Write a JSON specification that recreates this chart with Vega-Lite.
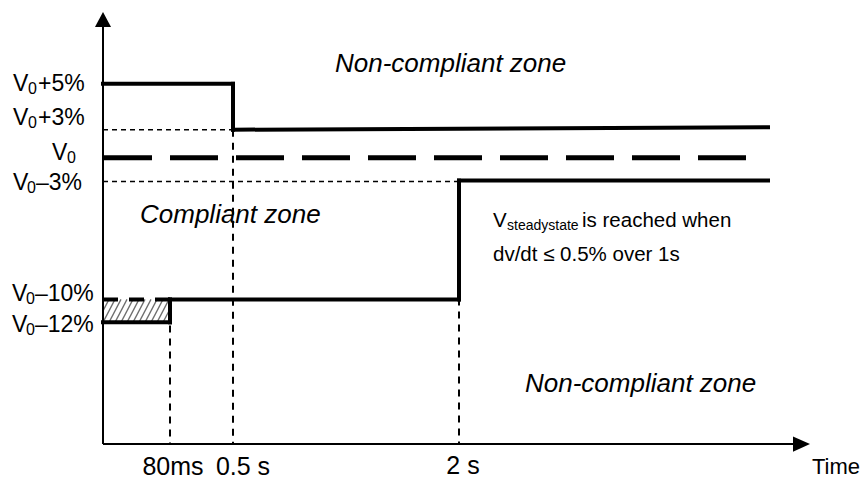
{
  "$schema": "https://vega.github.io/schema/vega-lite/v6.json",
  "width": 864,
  "height": 480,
  "padding": 0,
  "autosize": {"type": "fit", "contains": "padding"},
  "background": "white",
  "config": {"view": {"stroke": null}, "text": {"font": "Liberation Sans", "color": "black"}},
  "datasets": {
    "thick": [
      {"x": 103, "y": 84, "x2": 233, "y2": 84},
      {"x": 233, "y": 84, "x2": 233, "y2": 130},
      {"x": 233, "y": 130, "x2": 768, "y2": 127.5},
      {"x": 459, "y": 181, "x2": 768, "y2": 181},
      {"x": 459, "y": 181, "x2": 459, "y2": 300},
      {"x": 170, "y": 300, "x2": 459, "y2": 300},
      {"x": 103, "y": 323, "x2": 170, "y2": 323},
      {"x": 170, "y": 300, "x2": 170, "y2": 323}
    ],
    "nominal": [{"x": 104, "y": 158, "x2": 746, "y2": 158}],
    "lower": [{"x": 103, "y": 300, "x2": 170, "y2": 300}],
    "thinH": [
      {"x": 103, "y": 130, "x2": 233, "y2": 130},
      {"x": 103, "y": 182, "x2": 459, "y2": 182}
    ],
    "thinV": [
      {"x": 170, "y": 300, "x2": 170, "y2": 445},
      {"x": 233, "y": 130, "x2": 233, "y2": 445},
      {"x": 459, "y": 182, "x2": 459, "y2": 445}
    ],
    "axes": [
      {"x": 103, "y": 445, "x2": 103, "y2": 24},
      {"x": 103, "y": 445, "x2": 796, "y2": 445}
    ],
    "hatch": [
      {"x": 103, "y": 311.5, "x2": 109, "y2": 300},
      {"x": 103, "y": 323, "x2": 115, "y2": 300},
      {"x": 109, "y": 323, "x2": 121, "y2": 300},
      {"x": 115, "y": 323, "x2": 127, "y2": 300},
      {"x": 121, "y": 323, "x2": 133, "y2": 300},
      {"x": 127, "y": 323, "x2": 139, "y2": 300},
      {"x": 133, "y": 323, "x2": 145, "y2": 300},
      {"x": 139, "y": 323, "x2": 151, "y2": 300},
      {"x": 145, "y": 323, "x2": 157, "y2": 300},
      {"x": 151, "y": 323, "x2": 163, "y2": 300},
      {"x": 157, "y": 323, "x2": 169, "y2": 300},
      {"x": 163, "y": 323, "x2": 170, "y2": 309.6}
    ],
    "labelMain": [
      {"t": "V", "x": 13, "y": 91}, {"t": "+5%", "x": 38, "y": 91},
      {"t": "V", "x": 13, "y": 125}, {"t": "+3%", "x": 38, "y": 125},
      {"t": "V", "x": 52, "y": 160},
      {"t": "V", "x": 13, "y": 190}, {"t": "–3%", "x": 36, "y": 190},
      {"t": "V", "x": 12, "y": 302}, {"t": "–10%", "x": 35, "y": 302},
      {"t": "V", "x": 12, "y": 333}, {"t": "–12%", "x": 35, "y": 333}
    ],
    "labelSub": [
      {"t": "0", "x": 28, "y": 94},
      {"t": "0", "x": 28, "y": 128},
      {"t": "0", "x": 67, "y": 163},
      {"t": "0", "x": 27, "y": 193},
      {"t": "0", "x": 26, "y": 305},
      {"t": "0", "x": 26, "y": 336}
    ],
    "zones": [
      {"t": "Non-compliant zone", "x": 335, "y": 72},
      {"t": "Compliant zone", "x": 140, "y": 223},
      {"t": "Non-compliant zone", "x": 525, "y": 393}
    ],
    "ticks": [
      {"t": "80ms", "x": 173, "y": 476},
      {"t": "0.5 s", "x": 243, "y": 476},
      {"t": "2 s", "x": 463, "y": 475}
    ],
    "timeLabel": [{"t": "Time", "x": 812, "y": 475}],
    "note": [
      {"t": "V", "x": 493, "y": 227},
      {"t": "is reached when", "x": 582, "y": 227},
      {"t": "dv/dt ≤ 0.5% over 1s", "x": 493, "y": 262}
    ],
    "noteSub": [{"t": "steadystate", "x": 507, "y": 230}],
    "arrowUp": [{"x": 103, "y": 19.5}],
    "arrowRight": [{"x": 801.5, "y": 445}]
  },
  "layer": [
    {
      "data": {"name": "hatch"},
      "mark": {"type": "rule", "color": "#6e6e6e", "strokeWidth": 1.3},
      "encoding": {
        "x": {"field": "x", "type": "quantitative", "scale": {"domain": [0, 864], "nice": false, "zero": false}, "axis": null},
        "y": {"field": "y", "type": "quantitative", "scale": {"domain": [0, 480], "reverse": true, "nice": false, "zero": false}, "axis": null},
        "x2": {"field": "x2"},
        "y2": {"field": "y2"}
      }
    },
    {
      "data": {"name": "thinH"},
      "mark": {"type": "rule", "color": "black", "strokeWidth": 1.5, "strokeDash": [5, 4]},
      "encoding": {
        "x": {"field": "x", "type": "quantitative", "scale": {"domain": [0, 864], "nice": false, "zero": false}, "axis": null},
        "y": {"field": "y", "type": "quantitative", "scale": {"domain": [0, 480], "reverse": true, "nice": false, "zero": false}, "axis": null},
        "x2": {"field": "x2"},
        "y2": {"field": "y2"}
      }
    },
    {
      "data": {"name": "thinV"},
      "mark": {"type": "rule", "color": "black", "strokeWidth": 2, "strokeDash": [7, 6]},
      "encoding": {
        "x": {"field": "x", "type": "quantitative", "scale": {"domain": [0, 864], "nice": false, "zero": false}, "axis": null},
        "y": {"field": "y", "type": "quantitative", "scale": {"domain": [0, 480], "reverse": true, "nice": false, "zero": false}, "axis": null},
        "x2": {"field": "x2"},
        "y2": {"field": "y2"}
      }
    },
    {
      "data": {"name": "axes"},
      "mark": {"type": "rule", "color": "black", "strokeWidth": 2},
      "encoding": {
        "x": {"field": "x", "type": "quantitative", "scale": {"domain": [0, 864], "nice": false, "zero": false}, "axis": null},
        "y": {"field": "y", "type": "quantitative", "scale": {"domain": [0, 480], "reverse": true, "nice": false, "zero": false}, "axis": null},
        "x2": {"field": "x2"},
        "y2": {"field": "y2"}
      }
    },
    {
      "data": {"name": "thick"},
      "mark": {"type": "rule", "color": "black", "strokeWidth": 4, "strokeCap": "square"},
      "encoding": {
        "x": {"field": "x", "type": "quantitative", "scale": {"domain": [0, 864], "nice": false, "zero": false}, "axis": null},
        "y": {"field": "y", "type": "quantitative", "scale": {"domain": [0, 480], "reverse": true, "nice": false, "zero": false}, "axis": null},
        "x2": {"field": "x2"},
        "y2": {"field": "y2"}
      }
    },
    {
      "data": {"name": "nominal"},
      "mark": {"type": "rule", "color": "black", "strokeWidth": 5, "strokeDash": [48, 18]},
      "encoding": {
        "x": {"field": "x", "type": "quantitative", "scale": {"domain": [0, 864], "nice": false, "zero": false}, "axis": null},
        "y": {"field": "y", "type": "quantitative", "scale": {"domain": [0, 480], "reverse": true, "nice": false, "zero": false}, "axis": null},
        "x2": {"field": "x2"},
        "y2": {"field": "y2"}
      }
    },
    {
      "data": {"name": "lower"},
      "mark": {"type": "rule", "color": "black", "strokeWidth": 4, "strokeDash": [15, 11]},
      "encoding": {
        "x": {"field": "x", "type": "quantitative", "scale": {"domain": [0, 864], "nice": false, "zero": false}, "axis": null},
        "y": {"field": "y", "type": "quantitative", "scale": {"domain": [0, 480], "reverse": true, "nice": false, "zero": false}, "axis": null},
        "x2": {"field": "x2"},
        "y2": {"field": "y2"}
      }
    },
    {
      "data": {"name": "arrowUp"},
      "mark": {"type": "point", "shape": "M0,-1L-1.07,1L1.07,1Z", "size": 225, "filled": true, "color": "black", "opacity": 1, "strokeWidth": 0},
      "encoding": {
        "x": {"field": "x", "type": "quantitative", "scale": {"domain": [0, 864], "nice": false, "zero": false}, "axis": null},
        "y": {"field": "y", "type": "quantitative", "scale": {"domain": [0, 480], "reverse": true, "nice": false, "zero": false}, "axis": null}
      }
    },
    {
      "data": {"name": "arrowRight"},
      "mark": {"type": "point", "shape": "M1,0L-1,-0.9L-1,0.9Z", "size": 289, "filled": true, "color": "black", "opacity": 1, "strokeWidth": 0},
      "encoding": {
        "x": {"field": "x", "type": "quantitative", "scale": {"domain": [0, 864], "nice": false, "zero": false}, "axis": null},
        "y": {"field": "y", "type": "quantitative", "scale": {"domain": [0, 480], "reverse": true, "nice": false, "zero": false}, "axis": null}
      }
    },
    {
      "data": {"name": "labelMain"},
      "mark": {"type": "text", "align": "left", "baseline": "alphabetic", "fontSize": 23},
      "encoding": {
        "x": {"field": "x", "type": "quantitative", "scale": {"domain": [0, 864], "nice": false, "zero": false}, "axis": null},
        "y": {"field": "y", "type": "quantitative", "scale": {"domain": [0, 480], "reverse": true, "nice": false, "zero": false}, "axis": null},
        "text": {"field": "t"}
      }
    },
    {
      "data": {"name": "labelSub"},
      "mark": {"type": "text", "align": "left", "baseline": "alphabetic", "fontSize": 16},
      "encoding": {
        "x": {"field": "x", "type": "quantitative", "scale": {"domain": [0, 864], "nice": false, "zero": false}, "axis": null},
        "y": {"field": "y", "type": "quantitative", "scale": {"domain": [0, 480], "reverse": true, "nice": false, "zero": false}, "axis": null},
        "text": {"field": "t"}
      }
    },
    {
      "data": {"name": "zones"},
      "mark": {"type": "text", "align": "left", "baseline": "alphabetic", "fontSize": 26, "fontStyle": "italic"},
      "encoding": {
        "x": {"field": "x", "type": "quantitative", "scale": {"domain": [0, 864], "nice": false, "zero": false}, "axis": null},
        "y": {"field": "y", "type": "quantitative", "scale": {"domain": [0, 480], "reverse": true, "nice": false, "zero": false}, "axis": null},
        "text": {"field": "t"}
      }
    },
    {
      "data": {"name": "ticks"},
      "mark": {"type": "text", "align": "center", "baseline": "alphabetic", "fontSize": 25},
      "encoding": {
        "x": {"field": "x", "type": "quantitative", "scale": {"domain": [0, 864], "nice": false, "zero": false}, "axis": null},
        "y": {"field": "y", "type": "quantitative", "scale": {"domain": [0, 480], "reverse": true, "nice": false, "zero": false}, "axis": null},
        "text": {"field": "t"}
      }
    },
    {
      "data": {"name": "timeLabel"},
      "mark": {"type": "text", "align": "left", "baseline": "alphabetic", "fontSize": 22},
      "encoding": {
        "x": {"field": "x", "type": "quantitative", "scale": {"domain": [0, 864], "nice": false, "zero": false}, "axis": null},
        "y": {"field": "y", "type": "quantitative", "scale": {"domain": [0, 480], "reverse": true, "nice": false, "zero": false}, "axis": null},
        "text": {"field": "t"}
      }
    },
    {
      "data": {"name": "note"},
      "mark": {"type": "text", "align": "left", "baseline": "alphabetic", "fontSize": 20.5},
      "encoding": {
        "x": {"field": "x", "type": "quantitative", "scale": {"domain": [0, 864], "nice": false, "zero": false}, "axis": null},
        "y": {"field": "y", "type": "quantitative", "scale": {"domain": [0, 480], "reverse": true, "nice": false, "zero": false}, "axis": null},
        "text": {"field": "t"}
      }
    },
    {
      "data": {"name": "noteSub"},
      "mark": {"type": "text", "align": "left", "baseline": "alphabetic", "fontSize": 14},
      "encoding": {
        "x": {"field": "x", "type": "quantitative", "scale": {"domain": [0, 864], "nice": false, "zero": false}, "axis": null},
        "y": {"field": "y", "type": "quantitative", "scale": {"domain": [0, 480], "reverse": true, "nice": false, "zero": false}, "axis": null},
        "text": {"field": "t"}
      }
    }
  ]
}
